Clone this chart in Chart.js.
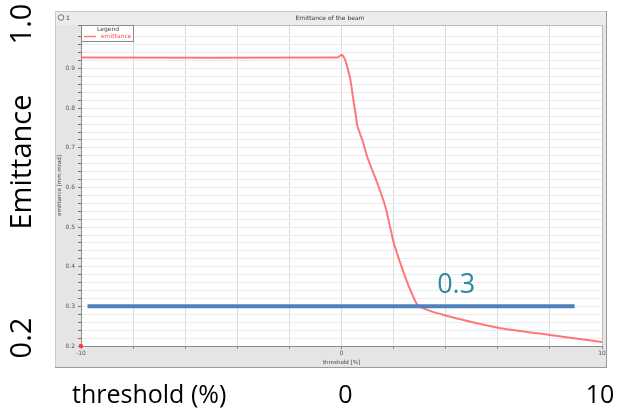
<!DOCTYPE html>
<html><head><meta charset="utf-8">
<script src="https://cdn.jsdelivr.net/npm/chart.js@4"></script>
<style>html,body{margin:0;padding:0;background:#fff;}</style>
</head><body>
<canvas id="c" width="624" height="415"></canvas>
<script>
// ---- data ----
const thresholdPct = [-10, -0.15, 0, 0.12, 0.23, 0.35, 0.46, 0.54, 0.61, 0.81, 1.0, 1.38, 1.69, 1.85, 2.0, 2.26, 2.57, 2.92, 3.34, 4.0, 4.84, 6.1, 8.0, 10];
const emittance    = [0.928, 0.928, 0.935, 0.925, 0.902, 0.869, 0.819, 0.786, 0.755, 0.718, 0.675, 0.61, 0.55, 0.505, 0.462, 0.409, 0.353, 0.303, 0.29, 0.277, 0.263, 0.245, 0.228, 0.21];
const refLineX = [-9.75, 8.95];
const refLineY = [0.3, 0.3];
const originX = [-10];
const originY = [0.2];
const xTickLabels = ['-10', '0', '10'];
const yTickLabels = ['0.2', '0.3', '0.4', '0.5', '0.6', '0.7', '0.8', '0.9', '1'];
const annotationText = '0.3';
const annotationAt = [4.4, 0.354];
const chartTitle = 'Emittance of the beam';
const legendTitle = 'Legend';
const xTitle = 'threshold [%]';
const yTitle = 'emittance [mm mrad]';
const slideYLabels = ['1.0', 'Emittance', '0.2'];
const slideXLabels = ['threshold (%)', '0', '10'];

const pts = (xs, ys) => xs.map((x, i) => ({x, y: ys[i]}));

const frame = {
  id: 'frame',
  beforeDraw(chart) {
    const {ctx, chartArea: a} = chart;
    ctx.save();
    ctx.fillStyle = '#ffffff';
    ctx.fillRect(0, 0, chart.width, chart.height);
    ctx.fillStyle = '#e5e5e5';
    ctx.fillRect(55, 11, 552, 357);
    ctx.fillStyle = '#ececec';
    ctx.fillRect(55, 11, 552, 14);
    ctx.strokeStyle = '#cacaca';
    ctx.lineWidth = 1;
    ctx.strokeRect(55.5, 11.5, 551, 356);
    ctx.strokeStyle = '#9a9a9a';
    ctx.beginPath(); ctx.moveTo(55, 367.5); ctx.lineTo(607, 367.5); ctx.stroke();
    ctx.beginPath(); ctx.moveTo(606.5, 11); ctx.lineTo(606.5, 368); ctx.stroke();
    ctx.fillStyle = '#ffffff';
    ctx.fillRect(a.left, a.top, a.right - a.left, a.bottom - a.top);
    ctx.fillStyle = '#333';
    ctx.font = '6px "DejaVu Sans"';
    ctx.textAlign = 'center';
    ctx.textBaseline = 'middle';
    ctx.fillText(chartTitle, 330, 18);
    ctx.strokeStyle = '#777';
    ctx.beginPath(); ctx.arc(61, 17.5, 2.8, 0, Math.PI * 2); ctx.stroke();
    ctx.textAlign = 'left';
    ctx.fillText('1', 66, 18);
    ctx.restore();
  },
  afterDatasetsDraw(chart) {
    const {ctx, chartArea: a, scales: {x, y}} = chart;
    ctx.save();
    ctx.strokeStyle = '#bdbdbd';
    ctx.lineWidth = 1;
    ctx.beginPath();
    ctx.moveTo(a.left, a.top + 0.5); ctx.lineTo(a.right + 0.5, a.top + 0.5); ctx.lineTo(a.right + 0.5, a.bottom);
    ctx.stroke();
    // legend (inside plot, top-left)
    const ds = chart.data.datasets[0];
    const L = a.left, T = a.top;
    ctx.fillStyle = '#ffffff';
    ctx.fillRect(L, T, 52, 16);
    ctx.strokeStyle = '#8a8a8a';
    ctx.strokeRect(L + 0.5, T + 0.5, 52, 16);
    ctx.fillStyle = '#444';
    ctx.font = '6px "DejaVu Sans"';
    ctx.textAlign = 'center';
    ctx.textBaseline = 'middle';
    ctx.fillText(legendTitle, L + 27, T + 4.5);
    ctx.strokeStyle = ds.borderColor;
    ctx.lineWidth = 1.5;
    ctx.beginPath(); ctx.moveTo(L + 3, T + 11.5); ctx.lineTo(L + 15, T + 11.5); ctx.stroke();
    ctx.fillStyle = '#ff4a4a';
    ctx.textAlign = 'left';
    ctx.fillText(ds.label, L + 20, T + 11.5);
    // annotation text
    ctx.fillStyle = '#2f87a3';
    ctx.font = '27px "Open Sans"';
    ctx.textAlign = 'center';
    ctx.fillText(annotationText, x.getPixelForValue(annotationAt[0]), y.getPixelForValue(annotationAt[1]));
    // slide labels
    ctx.fillStyle = '#000';
    ctx.font = '29px "Open Sans"';
    const ly = [24, 162, 338];
    slideYLabels.forEach((t, i) => {
      ctx.save();
      ctx.translate(22, ly[i]);
      ctx.rotate(-Math.PI / 2);
      ctx.fillText(t, 0, 1);
      ctx.restore();
    });
    ctx.font = '25px "Open Sans"';
    ctx.textAlign = 'left';
    ctx.fillText(slideXLabels[0], 72, 396);
    ctx.textAlign = 'center';
    ctx.fillText(slideXLabels[1], x.getPixelForValue(0) + 4, 396);
    ctx.fillText(slideXLabels[2], x.getPixelForValue(10) - 2, 396);
    ctx.restore();
  }
};

new Chart(document.getElementById('c'), {
  type: 'line',
  data: {
    datasets: [
      {
        label: 'emittance',
        data: pts(thresholdPct, emittance),
        borderColor: 'rgba(255,95,95,0.85)',
        borderWidth: 2,
        pointRadius: 0,
        tension: 0.2,
        order: 1
      },
      {
        label: 'limit',
        data: pts(refLineX, refLineY),
        borderColor: '#4f81bd',
        borderWidth: 4,
        pointRadius: 0,
        order: 0
      },
      {
        label: 'origin',
        data: pts(originX, originY),
        showLine: false,
        pointStyle: 'rect',
        pointRadius: 2,
        backgroundColor: '#ff3b3b',
        borderColor: '#ff3b3b',
        clip: false,
        order: 0
      }
    ]
  },
  options: {
    responsive: false,
    animation: false,
    devicePixelRatio: 1,
    layout: {padding: {left: 55, right: 22, top: 25, bottom: 47}},
    plugins: {
      tooltip: {enabled: false},
      title: {display: false},
      legend: {display: false}
    },
    scales: {
      x: {
        type: 'linear',
        min: -10, max: 10,
        afterFit: (s) => { s.height = 22; },
        ticks: {
          stepSize: 2, autoSkip: false, maxRotation: 0,
          color: '#555', font: {size: 6, family: 'DejaVu Sans'}, padding: 1,
          callback: (v) => (xTickLabels.includes(String(v)) ? String(v) : '')
        },
        grid: {color: '#dadada', tickLength: 3, tickColor: '#888'},
        border: {color: '#8c8c8c'},
        title: {display: true, text: xTitle, color: '#444', font: {size: 5.5, family: 'DejaVu Sans'}, padding: {top: 0, bottom: 2}}
      },
      y: {
        type: 'linear',
        min: 0.2, max: 1.01,
        afterFit: (s) => { s.width = 26; },
        ticks: {
          stepSize: 0.02, autoSkip: false,
          color: '#555', font: {size: 6, family: 'DejaVu Sans'}, padding: 3,
          callback: (v) => {
            const t = Math.round(v * 10) / 10;
            if (Math.abs(v - t) > 1e-6) return '';
            const s = t === 1 ? '1' : t.toFixed(1);
            return yTickLabels.includes(s) ? s : '';
          }
        },
        grid: {color: '#ececec', tickLength: 3, tickColor: '#777'},
        border: {color: '#8c8c8c'},
        title: {display: true, text: yTitle, color: '#444', font: {size: 5.5, family: 'DejaVu Sans'}, padding: {top: 1, bottom: 0}}
      }
    }
  },
  plugins: [frame]
});
</script>
</body></html>
